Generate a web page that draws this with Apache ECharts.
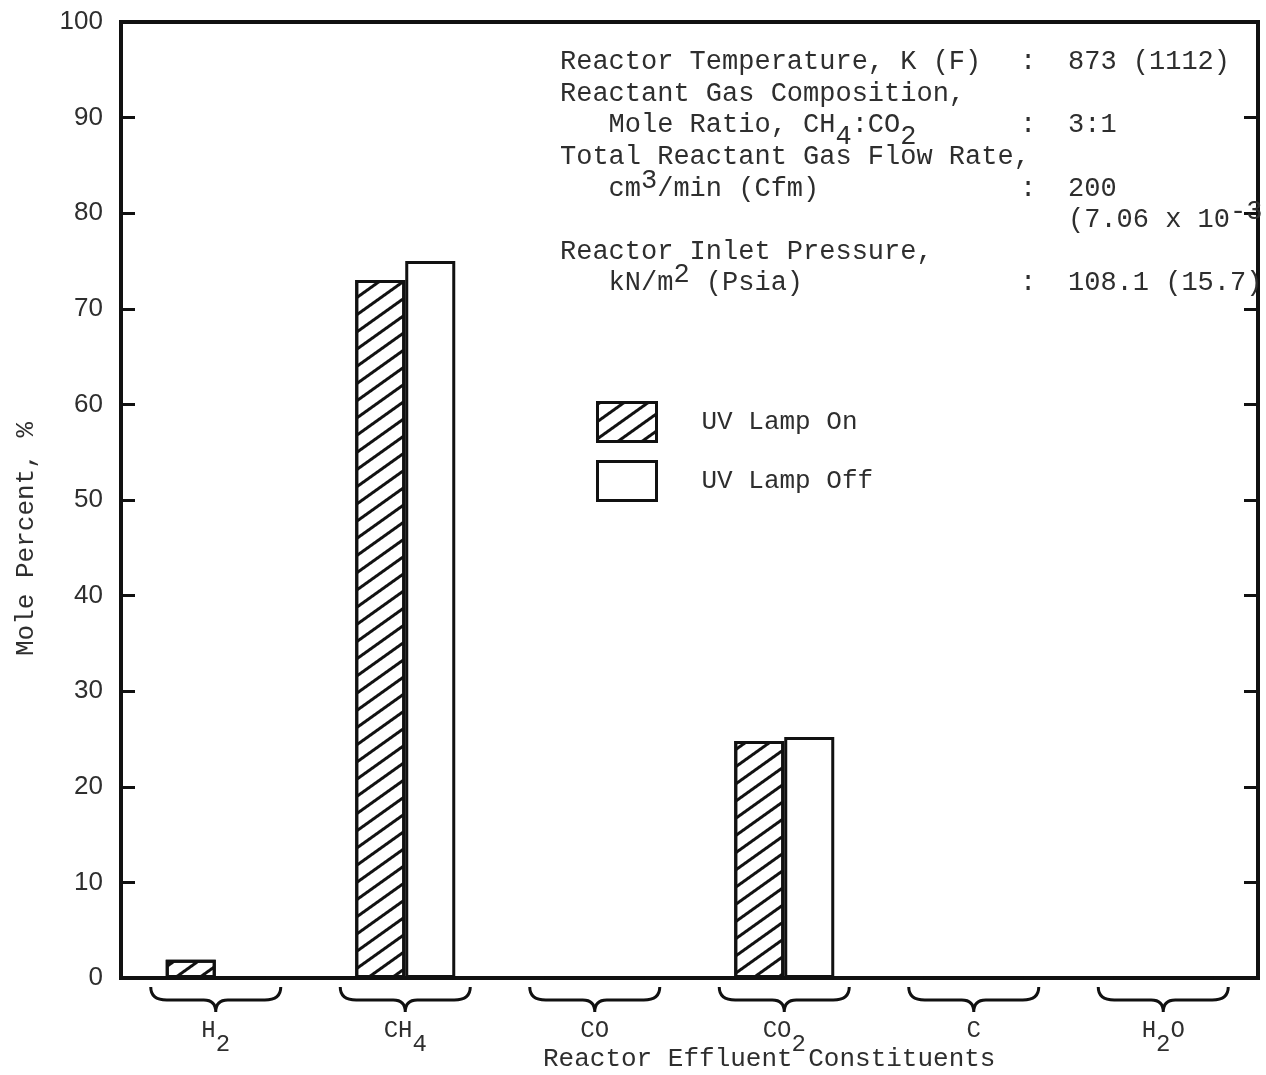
<!DOCTYPE html>
<html><head><meta charset="utf-8">
<script src="https://cdn.jsdelivr.net/npm/echarts@6/dist/echarts.min.js"></script>
<style>html,body{margin:0;padding:0;background:#fff}#chart{width:1266px;height:1075px}</style>
</head><body><div id="chart"></div>
<script>
// ---- data ----
const categories = ['H2', 'CH4', 'CO', 'CO2', 'C', 'H2O'];
const uvLampOn  = [1.9, 73.0, 0, 24.8, 0, 0];
const uvLampOff = [0, 75.0, 0, 25.2, 0, 0];
const seriesNames = ['UV Lamp On', 'UV Lamp Off'];
const yMin = 0, yMax = 100, yInterval = 10;
const yAxisName = 'Mole Percent, %';
const xAxisName = 'Reactor Effluent Constituents';
const infoLabels = ['Reactor Temperature, K (F)', 'Reactant Gas Composition,', '   Mole Ratio, CH{sb|4}:CO{sb|2}',
  'Total Reactant Gas Flow Rate,', '   cm{sp|3}/min (Cfm)', '', 'Reactor Inlet Pressure,', '   kN/m{sp|2} (Psia)'];
const infoColons = [true, false, true, false, true, false, false, true];
const infoValues = ['873 (1112)', '', '3:1', '', '200', '(7.06 x 10{sp|-3}', '', '108.1 (15.7)'];

// ---- styling ----
const MONO = '"Liberation Mono", "DejaVu Sans Mono", monospace';
const TXT = '#2e2e2e';
const LINE = '#111';

function subFmt(s) {
  return s.replace(/([A-Za-z]+)|(\d+)/g, (m, a, d) => a ? '{m|' + a + '}' : '{s|' + d + '}');
}
const infoRich = {
  sb: {fontFamily: MONO, fontSize: 27, fill: TXT, padding: [24, 0, 0, 0]},
  sp: {fontFamily: MONO, fontSize: 27, fill: TXT, padding: [0, 0, 16, 0]}
};
const graphics = [];
infoLabels.forEach((t, i) => {
  const y = 62 + i * 31.6;
  const base = {fontFamily: MONO, fontSize: 27, fill: TXT, verticalAlign: 'middle', rich: infoRich};
  if (t) graphics.push({type: 'text', x: 560, y: y, style: Object.assign({text: t}, base), z: 10});
  if (infoColons[i]) graphics.push({type: 'text', x: 1020, y: y, style: Object.assign({text: ':'}, base), z: 10});
  if (infoValues[i]) graphics.push({type: 'text', x: 1068, y: y, style: Object.assign({text: infoValues[i]}, base), z: 10});
});

const hatch = {symbol: 'rect', symbolSize: 1, color: LINE, dashArrayX: [1, 0], dashArrayY: [3, 11], rotation: -0.62};

const chart = echarts.init(document.getElementById('chart'));
chart.setOption({
  backgroundColor: '#fff',
  animation: false,
  title: {
    text: xAxisName, left: 543, top: 1046, padding: 0,
    textStyle: {fontFamily: MONO, fontSize: 26, fontWeight: 'normal', color: TXT}
  },
  grid: {left: 121, right: 8, top: 22, bottom: 97, show: true, borderColor: LINE, borderWidth: 4,
    backgroundColor: 'transparent', containLabel: false, outerBoundsMode: 'none'},
  legend: {
    data: seriesNames, orient: 'vertical', left: 596, top: 401, padding: 0,
    itemWidth: 59, itemHeight: 39, itemGap: 17, icon: 'rect',
    itemStyle: {borderColor: LINE, borderWidth: 3},
    textStyle: {fontFamily: MONO, fontSize: 26, color: TXT, padding: [0, 0, 0, 40]},
    selectedMode: false
  },
  xAxis: {
    type: 'category', data: categories,
    axisLine: {lineStyle: {color: LINE, width: 4}},
    axisTick: {show: false},
    axisLabel: {
      margin: 38, formatter: v => subFmt(v), interval: 0,
      rich: {
        m: {fontFamily: MONO, fontSize: 24, color: TXT, lineHeight: 30},
        s: {fontFamily: MONO, fontSize: 24, color: TXT, padding: [28, 0, 0, 0], lineHeight: 30}
      }
    }
  },
  yAxis: [{
    type: 'value', min: yMin, max: yMax, interval: yInterval, position: 'left',
    axisLine: {show: true, lineStyle: {color: LINE, width: 4}},
    axisTick: {show: true, inside: true, length: 14, lineStyle: {color: LINE, width: 3}},
    axisLabel: {fontFamily: '"Liberation Sans", Arial, sans-serif', fontSize: 26, color: TXT, margin: 18},
    splitLine: {show: false},
    name: yAxisName, nameLocation: 'middle', nameGap: 82,
    nameTextStyle: {fontFamily: MONO, fontSize: 26, color: TXT, padding: [0, 78, 0, 0]}
  }, {
    type: 'value', min: yMin, max: yMax, interval: yInterval, position: 'right',
    axisLine: {show: true, lineStyle: {color: LINE, width: 4}},
    axisTick: {show: true, inside: true, length: 14, lineStyle: {color: LINE, width: 3}},
    axisLabel: {show: false}, splitLine: {show: false}
  }],
  series: [{
    name: seriesNames[0], type: 'bar', data: uvLampOn, barWidth: 50, barGap: '0%',
    itemStyle: {color: '#fff', borderColor: LINE, borderWidth: 3, decal: hatch}
  }, {
    name: seriesNames[1], type: 'bar', data: uvLampOff, barWidth: 50, barGap: '0%',
    itemStyle: {color: '#fff', borderColor: LINE, borderWidth: 3}
  }, {
    type: 'custom', data: categories.map((c, i) => [i, 0]), clip: false, silent: true, z: 5,
    renderItem: function (params, api) {
      const p = api.coord([api.value(0), 0]);
      const cx = p[0], y0 = p[1], hw = 65;
      const d = 'M' + (cx - hw) + ',' + (y0 + 9) +
        ' Q' + (cx - hw) + ',' + (y0 + 22) + ' ' + (cx - hw + 16) + ',' + (y0 + 22) +
        ' L' + (cx - 12) + ',' + (y0 + 22) +
        ' Q' + cx + ',' + (y0 + 22) + ' ' + cx + ',' + (y0 + 34) +
        ' Q' + cx + ',' + (y0 + 22) + ' ' + (cx + 12) + ',' + (y0 + 22) +
        ' L' + (cx + hw - 16) + ',' + (y0 + 22) +
        ' Q' + (cx + hw) + ',' + (y0 + 22) + ' ' + (cx + hw) + ',' + (y0 + 9);
      return {type: 'path', shape: {pathData: d}, style: {fill: 'none', stroke: LINE, lineWidth: 3}};
    }
  }],
  graphic: graphics
});
</script>
</body></html>
